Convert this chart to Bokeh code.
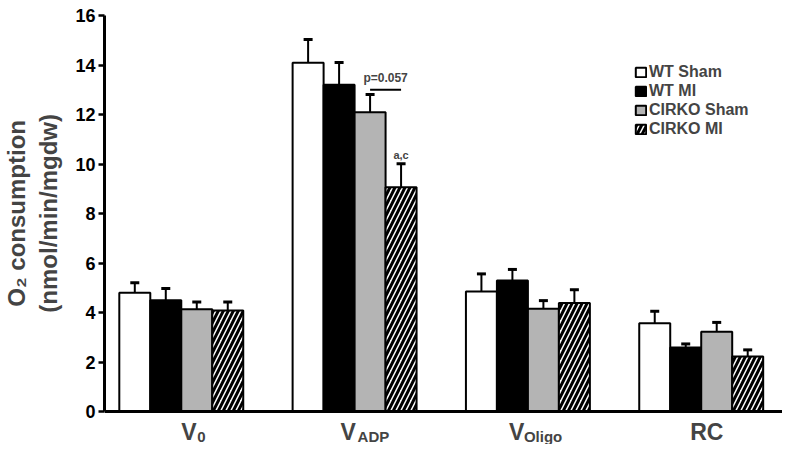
import numpy as np
from bokeh.plotting import figure
from bokeh.models import (Range1d, FixedTicker, ColumnDataSource, Whisker, TeeHead,
                          Legend, LegendItem, Label, Span)
from bokeh.embed import file_html
from bokeh.resources import INLINE

# ---- data ----
categories = ["V", "V", "V", "RC"]
subscripts = ["0", "ADP", "Oligo", ""]
series = ["WT Sham", "WT MI", "CIRKO Sham", "CIRKO MI"]
wt_sham = [4.80, 14.09, 4.85, 3.57]
wt_sham_err = [0.40, 0.94, 0.71, 0.48]
wt_mi = [4.50, 13.20, 5.29, 2.59]
wt_mi_err = [0.47, 0.90, 0.45, 0.14]
cirko_sham = [4.13, 12.09, 4.15, 3.22]
cirko_sham_err = [0.29, 0.72, 0.33, 0.38]
cirko_mi = [4.08, 9.06, 4.38, 2.22]
cirko_mi_err = [0.34, 0.95, 0.54, 0.27]
y_ticks = [0, 2, 4, 6, 8, 10, 12, 14, 16]
p_text = "p=0.057"
p_bar_y = 13.0
sig_text = "a,c"
y_title_lines = ["O\u2082 consumption", "(nmol/min/mgdw)"]

values = [wt_sham, wt_mi, cirko_sham, cirko_mi]
errors = [wt_sham_err, wt_mi_err, cirko_sham_err, cirko_mi_err]

# ---- styles ----
FONT = "Liberation Sans"
fills = ["white", "black", "#b4b4b4", "white"]
hatches = [None, None, None, "/"]
bar_w = 0.1788
main_dx = [0, -14, -19, -11]
sub_dx = [16, 3, -4, 0]
title_pad = "\u00a0" * 5  # shifts the rotated title up along the axis

group_x = np.arange(len(categories))

p = figure(width=782, height=444, output_backend="svg", toolbar_location=None,
           x_range=Range1d(-0.443, 3.469), y_range=Range1d(-1.333, 16),
           x_axis_location=None,
           min_border_left=98, min_border_right=0, min_border_top=15,
           min_border_bottom=0)
p.outline_line_color = None
p.xgrid.visible = False
p.ygrid.visible = False
p.background_fill_color = "white"
p.border_fill_color = "white"

renderers = []
for i in range(4):
    xs = group_x + (i - 1.5) * bar_w
    vals = np.array(values[i])
    errs = np.array(errors[i])
    src = ColumnDataSource(dict(x=xs, top=vals, upper=vals + errs))
    kw = dict(fill_color=fills[i], line_color="black", line_width=2)
    if hatches[i]:
        kw.update(hatch_pattern=hatches[i], hatch_color="black", hatch_scale=10, hatch_weight=3)
    r = p.vbar(x="x", top="top", bottom=0, width=bar_w, source=src, **kw)
    renderers.append(r)
    w = Whisker(source=src, base="x", lower="top", upper="upper", dimension="height",
                line_width=2, line_color="black",
                upper_head=TeeHead(size=9, line_width=3, line_color="black"), lower_head=None)
    p.add_layout(w)

# x axis baseline
p.add_layout(Span(location=0, dimension="width", line_color="black", line_width=3))

# significance bracket in V_ADP group
g = 1
x_gray = group_x[g] + 0.5 * bar_w
x_hatch = group_x[g] + 1.5 * bar_w
p.segment(x0=[x_gray], y0=[p_bar_y], x1=[x_hatch], y1=[p_bar_y], line_color="black", line_width=2)
p.add_layout(Label(x=(x_gray + x_hatch) / 2, y=p_bar_y, y_offset=12, text=p_text,
                   text_align="center", text_baseline="alphabetic",
                   text_font=FONT, text_font_style="bold", text_font_size="12px"))
p.add_layout(Label(x=x_hatch, y=cirko_mi[g] + cirko_mi_err[g], y_offset=9, text=sig_text,
                   text_align="center", text_baseline="alphabetic",
                   text_font=FONT, text_font_style="bold", text_font_size="11px"))

# y axis
yax = p.yaxis[0]
yax.bounds = (0, 16)
yax.ticker = FixedTicker(ticks=y_ticks)
yax.minor_tick_line_color = None
yax.major_tick_in = 0
yax.major_tick_out = 6
yax.major_tick_line_width = 2.5
yax.axis_line_width = 3
yax.major_label_standoff = 3
yax.major_label_text_font = FONT
yax.major_label_text_font_style = "bold"
yax.major_label_text_font_size = "18px"
yax.major_label_text_color = "black"
yax.axis_label = "\n".join(title_pad + line for line in y_title_lines)
yax.axis_label_text_font = FONT
yax.axis_label_text_font_style = "bold"
yax.axis_label_text_font_size = "24px"
yax.axis_label_standoff = 10

# category labels with subscripts
for k in range(len(categories)):
    p.add_layout(Label(x=group_x[k], y=0, x_offset=main_dx[k], y_offset=-20, text=categories[k],
                       text_align="left", text_baseline="alphabetic",
                       text_font=FONT, text_font_style="bold", text_font_size="23px"))
    if subscripts[k]:
        p.add_layout(Label(x=group_x[k], y=0, x_offset=sub_dx[k], y_offset=-25, text=subscripts[k],
                           text_align="left", text_baseline="alphabetic",
                           text_font=FONT, text_font_style="bold", text_font_size="15px"))

legend = Legend(items=[LegendItem(label=series[i], renderers=[renderers[i]]) for i in range(4)],
                location=(530, 306), orientation="vertical",
                glyph_width=13, glyph_height=12, label_height=12, spacing=1,
                label_standoff=2, padding=0, margin=0,
                border_line_color=None, background_fill_alpha=0,
                label_text_font=FONT, label_text_font_style="bold", label_text_font_size="16px")
p.add_layout(legend)

open("out.html", "w").write(file_html(p, INLINE))
